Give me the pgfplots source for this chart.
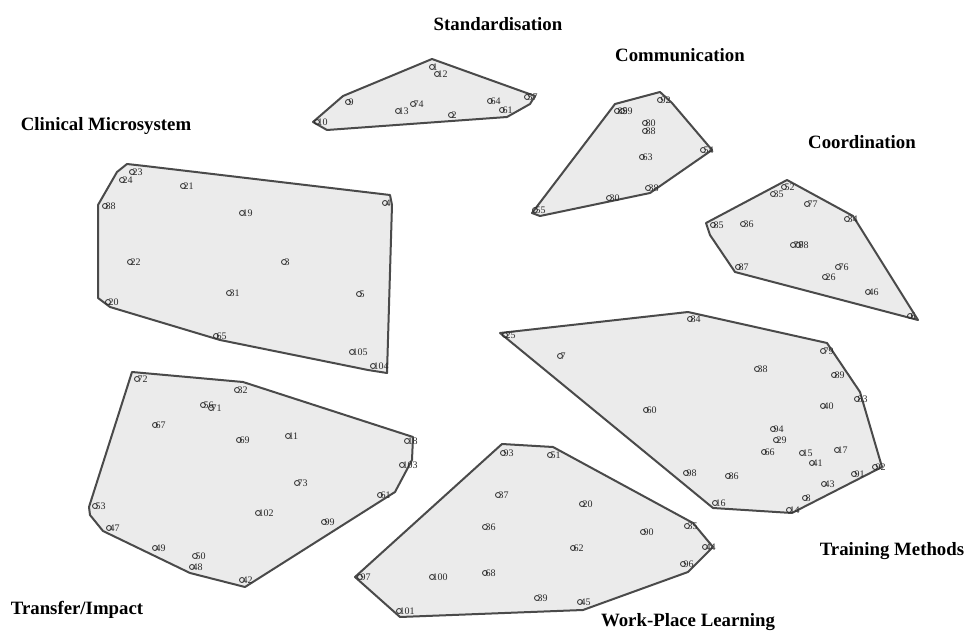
\documentclass[border=0pt]{standalone}
\usepackage{pgfplots}
\pgfplotsset{compat=1.18}
\usepackage{fontspec}
\setmainfont{Liberation Serif}
\definecolor{hullfill}{HTML}{EBEBEB}
\definecolor{hullline}{HTML}{4A4A4A}
\definecolor{ptcol}{HTML}{2A2A2A}
\tikzset{clname/.style={font=\fontsize{9.4}{11}\selectfont\bfseries, text=black}}
\begin{document}
\begin{tikzpicture}
\begin{axis}[
  scale only axis, width=485.5pt, height=317pt,
  xmin=0, xmax=971, ymin=0, ymax=634, y dir=reverse,
  hide axis, clip=false,
  hull/.style={fill=hullfill, draw=hullline, line width=1pt, line join=round},
  pts/.style={only marks, mark=o, mark size=1.25pt, color=ptcol, mark options={line width=0.4pt},
    nodes near coords, point meta=explicit symbolic,
    every node near coord/.style={anchor=west, font=\fontsize{5}{5.5}\selectfont, color=ptcol, inner sep=0.4pt, xshift=-0.3pt}},
]
\path (axis cs:0,0) rectangle (axis cs:971,634);
% ---------- hulls ----------
% Standardisation
\addplot[hull] coordinates {(313,122)(343,96)(432,59)(535,96)(530,104)(507,117)(327,130)} -- cycle;
% Communication
\addplot[hull] coordinates {(532,213)(615,104)(660,92)(672,103)(712,150)(650,193)(540,216)} -- cycle;
% Coordination
\addplot[hull] coordinates {(706,223)(787,180)(853,216)(918,320)(735,272)(710,235)} -- cycle;
% Clinical Microsystem
\addplot[hull] coordinates {(98,205)(117,172)(127,164)(145,166)(390,195)(392,205)(387,373)(368,370)(220,340)(110,307)(98,298)} -- cycle;
% Transfer/Impact
\addplot[hull] coordinates {(89,507)(132,372)(243,382)(413,437)(412,460)(395,492)(245,587)(190,573)(103,531)(90,515)} -- cycle;
% Work-Place Learning
\addplot[hull] coordinates {(355,577)(502,444)(553,447)(693,523)(713,547)(688,572)(583,610)(400,617)} -- cycle;
% Training Methods
\addplot[hull] coordinates {(500,333)(688,312)(827,343)(860,392)(882,467)(792,513)(713,508)} -- cycle;
% ---------- points ----------
\addplot[pts] table[meta=label]{
x y label
432 67 1
437 74 12
348 102 9
317 122 10
413 104 74
398 111 13
451 115 2
490 101 64
502 110 61
527 97 57
};
\addplot[pts] table[meta=label]{
x y label
535 210 55
609 198 30
648 188 38
642 157 63
645 123 80
645 131 88
660 100 92
617 111 89
622 111 59
703 150 54
};
\addplot[pts] table[meta=label]{
x y label
773 194 35
784 187 52
807 204 77
847 219 34
713 225 85
743 224 36
793 245 70
798 245 78
738 267 87
838 267 76
825 277 26
868 292 46
910 316 6
};
\addplot[pts] table[meta=label]{
x y label
132 172 23
122 180 24
183 186 21
105 206 88
242 213 19
385 203 4
130 262 22
284 262 3
229 293 31
359 294 5
108 302 20
216 336 65
352 352 105
373 366 104
};
\addplot[pts] table[meta=label]{
x y label
137 379 72
237 390 32
203 405 56
211 408 71
155 425 67
239 440 69
288 436 11
297 483 73
95 506 53
258 513 102
324 522 99
109 528 47
155 548 49
195 556 50
192 567 48
242 580 42
407 441 18
402 465 103
380 495 61
};
\addplot[pts] table[meta=label]{
x y label
503 453 93
550 455 51
498 495 37
582 504 20
485 527 36
643 532 90
687 526 35
573 548 62
705 547 44
683 564 96
360 577 97
432 577 100
485 573 68
537 598 39
580 602 45
399 611 101
};
\addplot[pts] table[meta=label]{
x y label
505 335 25
560 356 7
646 410 60
686 473 98
690 319 84
823 351 79
757 369 38
834 375 89
857 399 83
823 406 40
773 429 94
776 440 29
764 452 66
802 453 15
837 450 17
812 463 41
875 467 92
854 474 91
728 476 86
824 484 43
805 498 8
715 503 16
789 510 14
};
% ---------- cluster names ----------
\node[clname] at (axis cs:498,24) {Standardisation};
\node[clname] at (axis cs:680,55) {Communication};
\node[clname] at (axis cs:106,126) {Clinical Microsystem};
\node[clname] at (axis cs:862,142) {Coordination};
\node[clname] at (axis cs:892,551) {Training Methods};
\node[clname] at (axis cs:77,610) {Transfer/Impact};
\node[clname] at (axis cs:688,622) {Work-Place Learning};
\end{axis}
\end{tikzpicture}
\end{document}
